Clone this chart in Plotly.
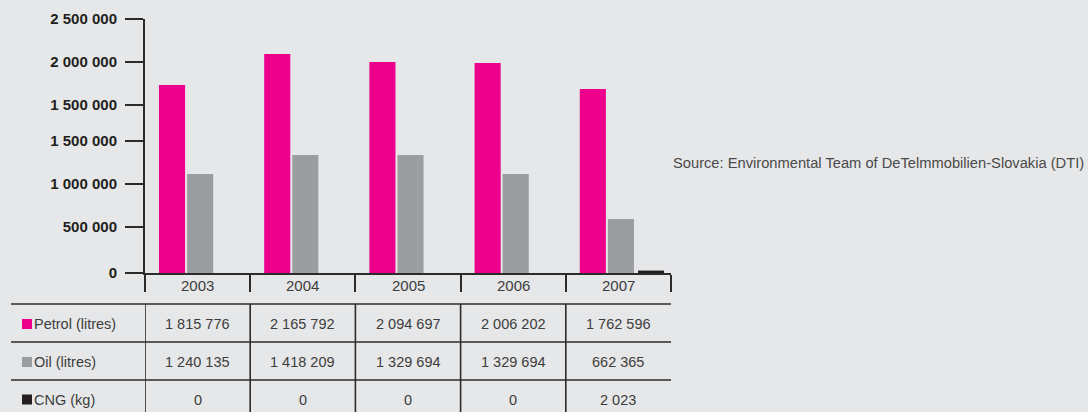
import plotly.graph_objects as go

# ---------------- data ----------------
years = ["2003", "2004", "2005", "2006", "2007"]
series_names = ["Petrol (litres)", "Oil (litres)", "CNG (kg)"]

# values printed in the table
petrol_table = [1815776, 2165792, 2094697, 2006202, 1762596]
oil_table = [1240135, 1418209, 1329694, 1329694, 662365]
cng_table = [0, 0, 0, 0, 2023]

# bar heights as drawn in the picture (axis units)
petrol_bars = [1850000, 2155000, 2077000, 2067000, 1811000]
oil_bars = [974000, 1161000, 1161000, 974000, 531000]
cng_bars = [0, 0, 0, 0, 24000]

# y-axis tick labels as printed (positions as drawn)
ytick_vals = [0, 453000, 876000, 1299000, 1654000, 2077000, 2500000]
ytick_text = ["0", "500 000", "1 000 000", "1 500 000", "1 500 000", "2 000 000", "2 500 000"]

source_text = "Source: Environmental Team of DeTelmmobilien-Slovakia (DTI)"

# ---------------- style ----------------
W, H = 1088, 412
BG = "#E6E7E8"
LINE = "#2B2B2B"
TXT = "#3D3D3D"
COLORS = ["#EC008C", "#9C9DA0", "#231F20"]
FONT = "Liberation Sans, Arial, sans-serif"


def px(x):
    return x / W


def py(y):
    return 1 - y / H


fig = go.Figure()

bar_w = 0.248
offsets = [-0.367, -0.100, 0.186]
for name, vals, col, off in zip(series_names, [petrol_bars, oil_bars, cng_bars], COLORS, offsets):
    fig.add_trace(go.Bar(x=years, y=vals, name=name, marker_color=col,
                         marker_line_width=0, width=bar_w, offset=off,
                         showlegend=False, hoverinfo="skip"))

shapes = []
annotations = []

# year labels under the axis
for i, yr in enumerate(years):
    annotations.append(dict(x=i, xref="x", y=py(285), yref="paper", text=yr,
                            showarrow=False, xanchor="center", yanchor="middle",
                            font=dict(family=FONT, size=15, color=TXT)))

# table
row_lines = [304, 342, 380]
row_centers = [324, 362, 399.5]
for yl in row_lines:
    shapes.append(dict(type="line", xref="paper", yref="paper", x0=px(11), x1=px(671),
                       y0=py(yl), y1=py(yl), line=dict(color=LINE, width=1.6)))
for i in range(len(years)):
    shapes.append(dict(type="line", xref="x", yref="paper", x0=i - 0.5, x1=i - 0.5,
                       y0=py(304), y1=0, line=dict(color=LINE, width=1.6)))

tables = [petrol_table, oil_table, cng_table]
for r, (name, vals, col) in enumerate(zip(series_names, tables, COLORS)):
    yc = row_centers[r]
    shapes.append(dict(type="rect", xref="paper", yref="paper",
                       x0=px(22), x1=px(32), y0=py(yc - 5), y1=py(yc + 5),
                       fillcolor=col, line=dict(width=0)))
    annotations.append(dict(x=px(32), xref="paper", y=py(yc), yref="paper", text=name,
                            showarrow=False, xanchor="left", yanchor="middle",
                            font=dict(family=FONT, size=14.5, color=TXT)))
    for i, v in enumerate(vals):
        annotations.append(dict(x=i, xref="x", y=py(yc), yref="paper",
                                text=f"{v:,}".replace(",", " "),
                                showarrow=False, xanchor="center", yanchor="middle",
                                font=dict(family=FONT, size=14.5, color=TXT)))

annotations.append(dict(x=px(1086), xref="paper", y=py(163), yref="paper", text=source_text,
                        showarrow=False, xanchor="right", yanchor="middle",
                        font=dict(family=FONT, size=14.7, color="#4A4A4A")))

fig.update_layout(
    width=W, height=H,
    margin=dict(l=0, r=0, t=0, b=0, pad=0),
    paper_bgcolor=BG, plot_bgcolor=BG,
    barmode="overlay",
    shapes=shapes, annotations=annotations,
    xaxis=dict(domain=[px(145), px(671)], range=[-0.5, 4.5], type="category",
               automargin=False,
               showline=True, linecolor=LINE, linewidth=2,
               ticks="outside", tickson="boundaries", ticklen=17, tickwidth=2,
               tickcolor=LINE, showticklabels=False, showgrid=False, zeroline=False,
               fixedrange=True),
    yaxis=dict(domain=[py(273), py(19)], range=[0, 2500000],
               automargin=False,
               showline=True, linecolor=LINE, linewidth=2,
               ticks="outside", ticklen=18, tickwidth=2, tickcolor=LINE,
               tickvals=ytick_vals, ticktext=ytick_text, ticklabelstandoff=5,
               tickfont=dict(family=FONT, size=15, color="#231F20", weight="bold"),
               showgrid=False, zeroline=False, fixedrange=True),
)

fig.write_html("out.html")
